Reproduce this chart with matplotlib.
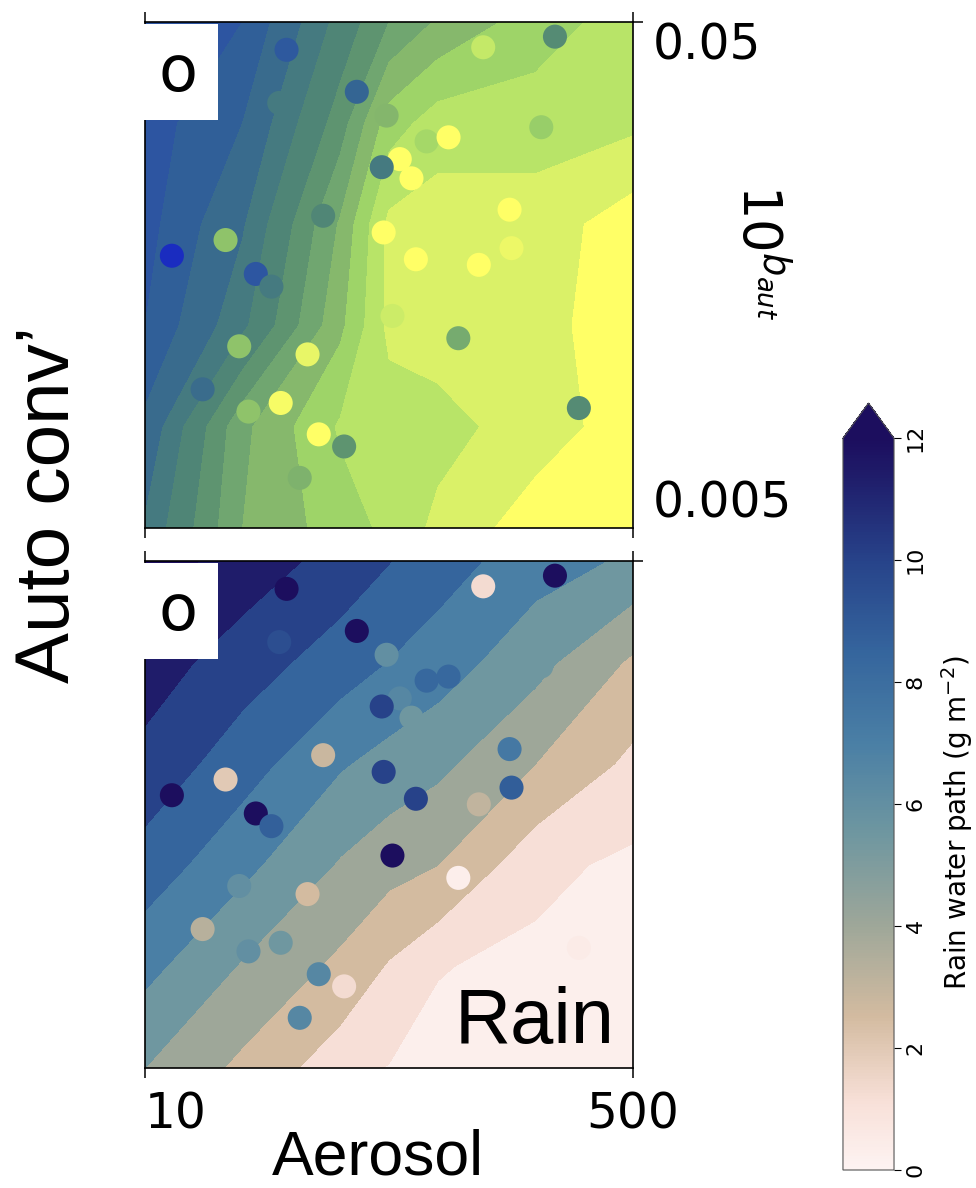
import numpy as np
import matplotlib
matplotlib.use('Agg')
import matplotlib.pyplot as plt
from matplotlib.colors import LinearSegmentedColormap, Normalize
from matplotlib.patches import Rectangle
import matplotlib.cm as cm

# normalised parameter space (aerosol 10..500, b_aut 0.005..0.05)
grid_x = [0.0, 0.2, 0.4, 0.5, 0.6, 0.8, 1.0]
grid_y = [0.0, 0.2, 0.4, 0.6, 0.8, 1.0]

# emulated fields on the grid, rows = y (bottom to top)
top_field = [
    [0.30, 0.62, 0.74, 0.80, 0.88, 1.00, 1.05],
    [0.22, 0.60, 0.79, 0.82, 0.83, 0.90, 1.00],
    [0.12, 0.35, 0.68, 0.88, 0.90, 0.92, 1.00],
    [0.09, 0.28, 0.63, 0.88, 0.90, 0.90, 1.00],
    [0.08, 0.20, 0.50, 0.74, 0.82, 0.82, 0.84],
    [0.06, 0.12, 0.40, 0.54, 0.63, 0.74, 0.82],
]
rain_field = [
    [4.75, 2.9, 0.9, 0.45, 0.2, 0.1, 0.0],
    [6.7, 4.6, 2.9, 1.6, 0.55, 0.25, 0.1],
    [8.6, 6.65, 4.6, 3.8, 3.25, 0.8, 0.25],
    [10.3, 8.4, 6.4, 5.7, 5.1, 3.25, 1.4],
    [11.5, 10.0, 8.5, 7.7, 7.0, 5.25, 3.0],
    [12.5, 11.6, 10.2, 9.3, 8.45, 6.9, 6.0],
]

# training points
pts_x = [0.290, 0.693, 0.840, 0.275, 0.434, 0.495, 0.812, 0.577, 0.622, 0.522, 0.485,
         0.546, 0.365, 0.747, 0.165, 0.055, 0.489, 0.751, 0.227, 0.259, 0.555, 0.684,
         0.507, 0.642, 0.193, 0.333, 0.118, 0.212, 0.278, 0.889, 0.356, 0.408, 0.317]
pts_y = [0.945, 0.950, 0.971, 0.840, 0.862, 0.815, 0.792, 0.764, 0.772, 0.729, 0.713,
         0.691, 0.617, 0.629, 0.569, 0.538, 0.584, 0.553, 0.502, 0.477, 0.531, 0.520,
         0.419, 0.375, 0.359, 0.343, 0.274, 0.230, 0.247, 0.237, 0.185, 0.161, 0.099]
top_vals = [0.10, 0.85, 0.45, 0.33, 0.20, 0.65, 0.72, 0.76, 1.0, 1.0, 0.33,
            1.0, 0.42, 1.0, 0.69, 0.0, 1.0, 0.95, 0.07, 0.33, 1.0, 1.0,
            0.87, 0.60, 0.69, 0.94, 0.25, 0.69, 0.98, 0.45, 1.0, 0.50, 0.63]
rain_vals = [12.5, 1.3, 12.5, 9.5, 12.5, 6.0, 5.5, 8.3, 8.3, 6.5, 10.0,
             5.5, 2.8, 7.4, 2.0, 12.5, 10.0, 8.8, 12.5, 8.7, 10.0, 3.0,
             12.5, 0.3, 6.0, 2.5, 3.3, 6.0, 5.5, 0.5, 6.5, 1.3, 6.5]

top_levels = [0.0, 0.12, 0.20, 0.29, 0.37, 0.46, 0.54, 0.62, 0.70, 0.78, 0.86, 0.95, 1.1]
rain_levels = [0, 0.5, 1.75, 3.25, 4.75, 6.25, 7.75, 9.25, 10.75, 12]

x_ticklabels = ['10', '500']
y_ticklabels = ['0.005', '0.05']
cbar_ticks = [0, 2, 4, 6, 8, 10, 12]

# colour maps
top_stops = [0.0, 0.04, 0.16, 0.25, 0.33, 0.42, 0.50, 0.58, 0.66, 0.74, 0.82, 0.90, 1.0]
top_colors = ['#1a2cc0', '#2c53a3', '#305f98', '#3a6c8c', '#457a80', '#508676', '#5e9470',
              '#70a670', '#86b86c', '#9ed468', '#b8e468', '#d8f068', '#ffff66']
top_cmap = LinearSegmentedColormap.from_list('top', list(zip(top_stops, top_colors)))

rain_stops = [0.0, 1.1, 2.5, 4.0, 5.5, 7.0, 8.5, 10.0, 11.4, 12.0]
rain_colors = ['#fdf3f2', '#f8e0d8', '#d3bba0', '#9ea799', '#6f97a0', '#4a7fa5',
               '#35659d', '#27438a', '#1f1c6a', '#1c0e5e']
rain_cmap = LinearSegmentedColormap.from_list('rain', [(s / 12.0, c) for s, c in zip(rain_stops, rain_colors)])

top_norm = Normalize(0, 1)
rain_norm = Normalize(0, 12)

fig = plt.figure(figsize=(9.76, 11.88), dpi=100)
ax1 = fig.add_axes([0.1486, 0.5556, 0.5, 0.4259])
ax2 = fig.add_axes([0.1486, 0.1010, 0.5, 0.4268])
cax = fig.add_axes([0.8637, 0.01515, 0.0523, 0.6456])

X, Y = np.meshgrid(grid_x, grid_y)

ax1.contourf(X, Y, np.array(top_field), levels=top_levels, cmap=top_cmap, norm=top_norm)
ax1.scatter(pts_x, pts_y, c=top_vals, cmap=top_cmap, norm=top_norm, s=300, linewidths=0, zorder=3)

ax2.contourf(X, Y, np.array(rain_field), levels=rain_levels, cmap=rain_cmap, norm=rain_norm, extend='max')
ax2.scatter(pts_x, pts_y, c=rain_vals, cmap=rain_cmap, norm=rain_norm, s=300, linewidths=0, zorder=3)

for ax in (ax1, ax2):
    ax.set_xlim(0, 1)
    ax.set_ylim(0, 1)
    for sp in ax.spines.values():
        sp.set_linewidth(1.2)
    ax.set_xticks([0, 1])
    ax.tick_params(axis='x', top=True, bottom=True, direction='out', length=7.5, width=1.1, pad=9)
    ax.yaxis.tick_right()
    ax.tick_params(axis='y', direction='out', length=7.5, width=1.1, pad=6.5)
    # white label box in the corner
    ax.add_patch(Rectangle((-0.004, 0.806), 0.154, 0.19, transform=ax.transAxes,
                           facecolor='white', edgecolor='none', zorder=5, clip_on=False))
    ax.text(0.068, 0.9, 'o', transform=ax.transAxes, ha='center', va='center',
            fontsize=46, zorder=6)

ax1.tick_params(axis='x', labelbottom=False)
ax1.set_yticks([0, 1])
ax1.set_yticklabels(y_ticklabels, fontsize=35)
ylab = ax1.get_yticklabels()
ylab[0].set_va('bottom')
ylab[1].set_va('top')
ax1.yaxis.get_major_ticks()[0].tick2line.set_visible(False)
ax1.yaxis.set_label_position('right')
ax1.set_ylabel(r'$10^{b_{aut}}$', fontsize=38, rotation=270, ha='center', va='center')
ax1.yaxis.set_label_coords(1.258, 0.545)

ax2.set_xticklabels(x_ticklabels, fontsize=35)
ax2.get_xticklabels()[0].set_ha('left')
ax2.set_yticks([1])
ax2.set_yticklabels([])
ax2.text(0.963, 0.049, 'Rain', transform=ax2.transAxes, ha='right', va='baseline',
         fontsize=56, family='Liberation Sans', zorder=6)

fig.text(0.051, 0.575, 'Auto conv\u2019', rotation=90, ha='center', va='center',
         fontsize=55, family='Liberation Sans')
fig.text(0.387, 0.011, 'Aerosol', ha='center', va='baseline',
         fontsize=45, family='Liberation Sans')

sm = cm.ScalarMappable(norm=rain_norm, cmap=rain_cmap)
cbar = fig.colorbar(sm, cax=cax, extend='max', extendfrac=0.048)
cbar.set_ticks(cbar_ticks)
cbar.outline.set_linewidth(0.8)
cbar.outline.set_edgecolor('#555555')
cax.tick_params(labelsize=16, labelrotation=90, length=5, width=0.8)
for t in cax.get_yticklabels():
    t.set_va('center')
cbar.set_label('Rain water path (g m$^{-2}$)', fontsize=20, rotation=90, ha='center', va='center')
cax.yaxis.set_label_coords(2.24, 0.475)

fig.savefig('out.png', dpi=100)
